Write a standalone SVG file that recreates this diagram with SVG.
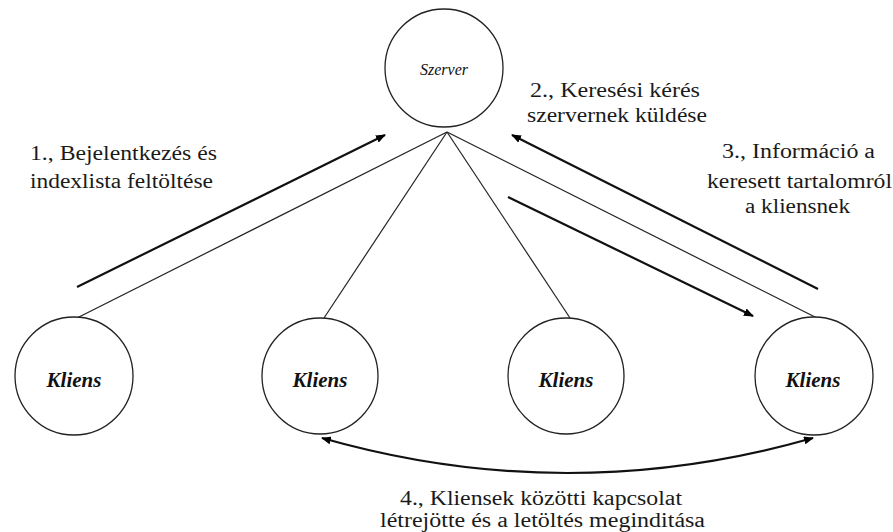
<svg xmlns="http://www.w3.org/2000/svg" width="893" height="532" viewBox="0 0 893 532">
<style>
text{font-family:'Liberation Serif','Times New Roman',Times,'Nimbus Roman','Nimbus Roman No9 L',FreeSerif,'DejaVu Serif','Noto Serif',Tinos,serif}
.node{fill:#fff;stroke:#222;stroke-width:1.3}
.ln{fill:none;stroke:#222;stroke-width:1.2}
.ar{fill:none;stroke:#111;stroke-width:2.2}
.lbl{font-size:20px;fill:#1a1a1a}
.kl{font-size:21px;font-weight:bold;font-style:italic;fill:#111;text-anchor:middle}
.sz{font-size:16px;font-style:italic;fill:#111;text-anchor:middle}
</style>
<defs>
<marker id="ah" markerWidth="10" markerHeight="8" refX="9" refY="4" orient="auto" markerUnits="userSpaceOnUse" viewBox="0 0 10 8">
<path d="M0,0 L10,4 L0,8 z" fill="#000"/>
</marker>
<marker id="ahs" markerWidth="10" markerHeight="8" refX="9" refY="4" orient="auto-start-reverse" markerUnits="userSpaceOnUse" viewBox="0 0 10 8">
<path d="M0,0 L10,4 L0,8 z" fill="#000"/>
</marker>
</defs>
<rect width="893" height="532" fill="#fff"/>
<g id="connectors">
<line class="ln" x1="447" y1="132" x2="77" y2="318"/>
<line class="ln" x1="447" y1="132" x2="324" y2="318"/>
<line class="ln" x1="447" y1="132" x2="570" y2="318"/>
<line class="ln" x1="447" y1="132" x2="817" y2="318"/>
<line class="ar" x1="77" y1="287" x2="385" y2="135" marker-end="url(#ah)"/>
<line class="ar" x1="818" y1="289" x2="512" y2="135" marker-end="url(#ah)"/>
<line class="ar" x1="508" y1="197" x2="753" y2="316" marker-end="url(#ah)"/>
<path class="ar" d="M322,438 Q567,508 813,438" marker-start="url(#ahs)" marker-end="url(#ahs)"/>
</g>
<g id="server">
<circle class="node" cx="444" cy="68" r="59"/>
<text class="sz" x="444" y="75">Szerver</text>
</g>
<g id="client1">
<circle class="node" cx="74" cy="376" r="59"/>
<text class="kl" x="74" y="387">Kliens</text>
</g>
<g id="client2">
<circle class="node" cx="320" cy="376" r="58"/>
<text class="kl" x="320" y="387">Kliens</text>
</g>
<g id="client3">
<circle class="node" cx="566" cy="376" r="58"/>
<text class="kl" x="566" y="387">Kliens</text>
</g>
<g id="client4">
<circle class="node" cx="814" cy="376" r="59"/>
<text class="kl" x="813" y="387">Kliens</text>
</g>
<g id="label1">
<text class="lbl" x="30" y="160" textLength="187" lengthAdjust="spacingAndGlyphs">1., Bejelentkezés és</text>
<text class="lbl" x="30" y="188" textLength="183" lengthAdjust="spacingAndGlyphs">indexlista feltöltése</text>
</g>
<g id="label2">
<text class="lbl" x="530" y="97" textLength="170" lengthAdjust="spacingAndGlyphs">2., Keresési kérés</text>
<text class="lbl" x="527" y="122" textLength="180" lengthAdjust="spacingAndGlyphs">szervernek küldése</text>
</g>
<g id="label3">
<text class="lbl" x="722" y="158" textLength="153" lengthAdjust="spacingAndGlyphs">3., Információ a</text>
<text class="lbl" x="707" y="188" textLength="185" lengthAdjust="spacingAndGlyphs">keresett tartalomról</text>
<text class="lbl" x="745" y="213" textLength="105" lengthAdjust="spacingAndGlyphs">a kliensnek</text>
</g>
<g id="label4">
<text class="lbl" x="400" y="505" textLength="282" lengthAdjust="spacingAndGlyphs">4., Kliensek közötti kapcsolat</text>
<text class="lbl" x="380" y="527" textLength="325" lengthAdjust="spacingAndGlyphs">létrejötte és a letöltés meginditása</text>
</g>
</svg>
